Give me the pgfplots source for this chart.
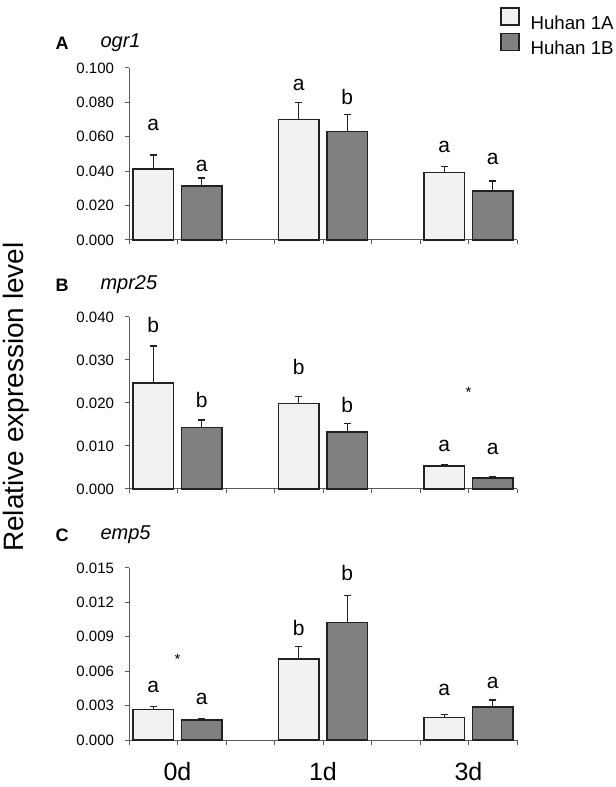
\documentclass[border=0pt]{standalone}
\usepackage{fontspec}
\setmainfont{Liberation Sans}
\usepackage{pgfplots}
\usepackage{pgfplotstable}
\pgfplotsset{compat=1.18}
\definecolor{lightbar}{HTML}{F2F2F2}
\definecolor{darkbar}{HTML}{808080}
\definecolor{axgray}{HTML}{5A5A5A}
\definecolor{edge}{HTML}{222222}

% Panel A: ogr1
\pgfplotstableread{
x y e
0.5 0.0412 0.0083
3.5 0.0700 0.0099
6.5 0.0393 0.0033
}\Aone
\pgfplotstableread{
x y e
1.5 0.0315 0.0045
4.5 0.0632 0.0099
7.5 0.0286 0.0058
}\Atwo
\pgfplotstableread{
x y l
0.5 0.0669 a
1.5 0.0432 a
3.5 0.0901 a
4.5 0.0833 b
6.5 0.0542 a
7.5 0.0469 a
}\Alab
% Panel B: mpr25
\pgfplotstableread{
x y e
0.5 0.0246 0.0087
3.5 0.0199 0.0016
6.5 0.0053 0.0004
}\Bone
\pgfplotstableread{
x y e
1.5 0.0143 0.0017
4.5 0.0133 0.0019
7.5 0.0026 0.0003
}\Btwo
\pgfplotstableread{
x y l
0.5 0.0381 b
1.5 0.0207 b
3.5 0.0283 b
4.5 0.0195 b
6.5 0.0100 a
7.5 0.0092 a
}\Blab
% Panel C: emp5
\pgfplotstableread{
x y e
0.5 0.00268 0.00022
3.5 0.00706 0.00108
6.5 0.00198 0.00023
}\Cone
\pgfplotstableread{
x y e
1.5 0.00174 0.00015
4.5 0.01023 0.00239
7.5 0.00288 0.00061
}\Ctwo
\pgfplotstableread{
x y l
0.5 0.00460 a
1.5 0.00355 a
3.5 0.00974 b
4.5 0.01454 b
6.5 0.00436 a
7.5 0.00500 a
}\Clab

\pgfplotsset{
  panel/.style={
    scale only axis, width=388bp, height=172bp,
    xmin=0, xmax=8, ymin=0,
    axis x line*=bottom, axis y line*=left,
    axis line style={draw=axgray, line width=1bp},
    tick style={draw=axgray, line width=1bp},
    tick align=outside, major tick length=4.5bp,
    xtick={0,1,2,3,4,5,6,7,8}, xticklabels={},
    scaled y ticks=false,
    /pgf/number format/assume math mode=true,
    yticklabel style={font=\fontsize{15bp}{18bp}\selectfont, xshift=-7bp,
      /pgf/number format/.cd, fixed, fixed zerofill, precision=3},
    clip=false,
  },
  errstyle/.style={
    /pgfplots/error bars/y dir=plus,
    /pgfplots/error bars/y explicit,
    /pgfplots/error bars/error mark=-,
    /pgfplots/error bars/error bar style={line width=1.4bp, edge},
    /pgfplots/error bars/error mark options={line width=1.4bp, mark size=3.4bp, edge, rotate=90}},
  barA/.style={ybar, bar width=0.845, bar shift=0pt, fill=lightbar, draw=edge, line width=1.5bp, errstyle},
  barB/.style={ybar, bar width=0.845, bar shift=0pt, fill=darkbar, draw=edge, line width=1.5bp, errstyle},
  labplot/.style={forget plot, only marks, mark=*, mark size=0pt,
    mark options={draw=none, fill=none},
    nodes near coords, point meta=explicit symbolic,
    every node near coord/.append style={anchor=center, font=\fontsize{21bp}{25bp}\selectfont, text=black}},
}

\begin{document}
\begin{tikzpicture}
\useasboundingbox (0,0) rectangle (616bp,787bp);

% Panel A
\begin{axis}[panel, at={(129bp,547bp)}, anchor=south west,
  ymax=0.1, ytick={0,0.02,0.04,0.06,0.08,0.1},
  legend style={draw=none, fill=none, inner sep=0pt, at={(0.956,1.355)}, anchor=north west,
    font=\fontsize{18.7bp}{22bp}\selectfont, row sep=0bp, column sep=9bp},
  legend cell align=left]
\addplot[barA, legend image code/.code={\draw[fill=lightbar, draw=edge, line width=1.4bp] (0bp,-1.8bp) rectangle (18bp,15.2bp);}] table[x=x, y=y, y error=e] {\Aone};
\addlegendentry{Huhan 1A}
\addplot[barB, legend image code/.code={\draw[fill=darkbar, draw=edge, line width=1.4bp] (0bp,-1.8bp) rectangle (18bp,15.2bp);}] table[x=x, y=y, y error=e] {\Atwo};
\addlegendentry{Huhan 1B}
\addplot[labplot] table[x=x, y=y, meta=l] {\Alab};
\end{axis}

% Panel B
\begin{axis}[panel, at={(129bp,298bp)}, anchor=south west,
  ymax=0.04, ytick={0,0.01,0.02,0.03,0.04}]
\addplot[barA] table[x=x, y=y, y error=e] {\Bone};
\addplot[barB] table[x=x, y=y, y error=e] {\Btwo};
\addplot[labplot] table[x=x, y=y, meta=l] {\Blab};
\addplot[labplot, every node near coord/.append style={font=\fontsize{15bp}{18bp}\selectfont, yshift=-3bp}] table[x=x, y=y, meta=l] {
x y l
7 0.0232 *
};
\end{axis}

% Panel C
\begin{axis}[panel, at={(129bp,47bp)}, anchor=south west,
  ymax=0.015, ytick={0,0.003,0.006,0.009,0.012,0.015},
  xticklabels={,0d,,,1d,,,3d,},
  xticklabel style={font=\fontsize{25bp}{30bp}\selectfont, yshift=-14bp}]
\addplot[barA] table[x=x, y=y, y error=e] {\Cone};
\addplot[barB] table[x=x, y=y, y error=e] {\Ctwo};
\addplot[labplot] table[x=x, y=y, meta=l] {\Clab};
\addplot[labplot, every node near coord/.append style={font=\fontsize{15bp}{18bp}\selectfont, yshift=-3bp}] table[x=x, y=y, meta=l] {
x y l
1 0.00726 *
};
\end{axis}

% panel headers and shared y label
\node[font=\fontsize{18bp}{22bp}\selectfont\bfseries] at (62bp,744bp) {A};
\node[anchor=west, font=\fontsize{20bp}{24bp}\selectfont\itshape] at (97bp,744bp) {ogr1};
\node[font=\fontsize{18bp}{22bp}\selectfont\bfseries] at (62bp,502bp) {B};
\node[anchor=west, font=\fontsize{20bp}{24bp}\selectfont\itshape] at (97bp,502bp) {mpr25};
\node[font=\fontsize{18bp}{22bp}\selectfont\bfseries] at (62bp,252bp) {C};
\node[anchor=west, font=\fontsize{20bp}{24bp}\selectfont\itshape] at (97bp,252bp) {emp5};
\node[rotate=90, font=\fontsize{28bp}{32bp}\selectfont] at (16bp,390bp) {Relative expression level};
\end{tikzpicture}
\end{document}
